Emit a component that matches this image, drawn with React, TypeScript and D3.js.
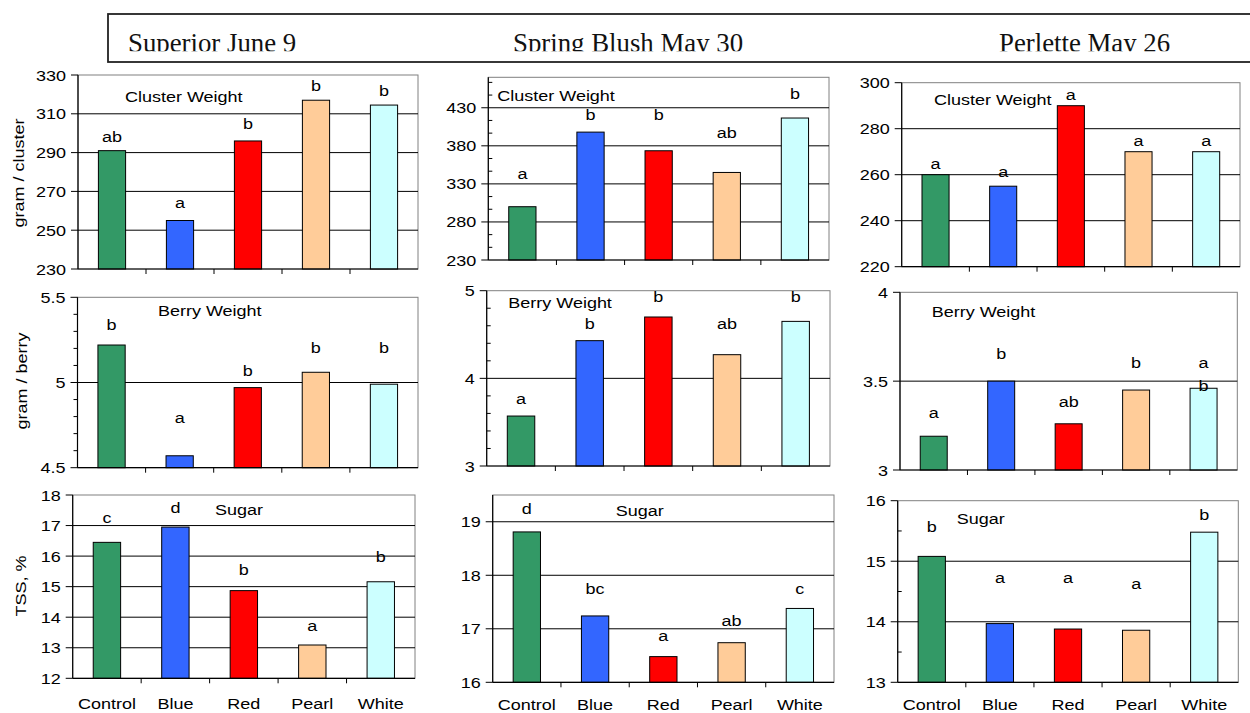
import React from 'react';
import * as d3 from 'd3';

// ---------- data ----------
const categories = ['Control', 'Blue', 'Red', 'Pearl', 'White'];
const barColors = ['#339966', '#3366FF', '#FF0000', '#FFCC99', '#CCFFFF'];
const cultivarTitles = ['Superior June 9', 'Spring Blush May 30', 'Perlette May 26'];
const measureTitles = ['Cluster Weight', 'Berry Weight', 'Sugar'];
const yAxisTitles = ['gram / cluster', 'gram / berry', 'TSS, %'];

// Superior June 9
const superiorCluster = [291, 255, 296, 317, 314.5];
const superiorClusterLetters = ['ab', 'a', 'b', 'b', 'b'];
const superiorClusterLetterAt = [298, 264, 305, 324.3, 321.8];
const superiorClusterTicks = [230, 250, 270, 290, 310, 330];

const superiorBerry = [5.22, 4.57, 4.97, 5.06, 4.99];
const superiorBerryLetters = ['b', 'a', 'b', 'b', 'b'];
const superiorBerryLetterAt = [5.34, 4.79, 5.07, 5.2, 5.2];
const superiorBerryTicks = [4.5, 5, 5.5];

const superiorSugar = [16.45, 16.95, 14.87, 13.09, 15.16];
const superiorSugarLetters = ['c', 'd', 'b', 'a', 'b'];
const superiorSugarLetterAt = [17.24, 17.56, 15.55, 13.72, 15.98];
const superiorSugarTicks = [12, 13, 14, 15, 16, 17, 18];

// Spring Blush May 30
const blushCluster = [300, 398, 373.5, 345, 416.5];
const blushClusterLetters = ['a', 'b', 'b', 'ab', 'b'];
const blushClusterLetterAt = [343, 421, 421, 397, 448];
const blushClusterTicks = [230, 280, 330, 380, 430];

const blushBerry = [3.57, 4.43, 4.7, 4.27, 4.65];
const blushBerryLetters = ['a', 'b', 'b', 'ab', 'b'];
const blushBerryLetterAt = [3.76, 4.62, 4.93, 4.62, 4.93];
const blushBerryTicks = [3, 4, 5];

const blushSugar = [18.81, 17.24, 16.48, 16.74, 17.38];
const blushSugarLetters = ['d', 'bc', 'a', 'ab', 'c'];
const blushSugarLetterAt = [19.23, 17.74, 16.87, 17.15, 17.74];
const blushSugarTicks = [16, 17, 18, 19];

// Perlette May 26
const perletteCluster = [260, 255, 290, 270, 270];
const perletteClusterLetters = ['a', 'a', 'a', 'a', 'a'];
const perletteClusterLetterAt = [264.5, 261, 294.7, 274.8, 274.8];
const perletteClusterTicks = [220, 240, 260, 280, 300];

const perletteBerry = [3.19, 3.5, 3.26, 3.45, 3.46];
const perletteBerryLetters = ['a', 'b', 'ab', 'b', 'a\nb'];
const perletteBerryLetterAt = [3.32, 3.65, 3.38, 3.6, 3.6];
const perletteBerryTicks = [3, 3.5, 4];

const perletteSugar = [15.08, 13.97, 13.88, 13.86, 15.48];
const perletteSugarLetters = ['b', 'a', 'a', 'a', 'b'];
const perletteSugarLetterAt = [15.57, 14.72, 14.72, 14.63, 15.76];
const perletteSugarTicks = [13, 14, 15, 16];

// ---------- layout ----------
const SX = 1.2; // horizontal glyph stretch of the sans text
const SANS = "'Liberation Sans', Arial, Helvetica, sans-serif";

type Panel = {
  row: number;
  col: number;
  values: number[];
  letters: string[];
  letterAt: number[];
  ticks: number[];
  domain: [number, number];
  frame: { l: number; t: number; r: number; b: number };
  minor?: { step: number; inside: boolean };
  title: { x: number; y: number };
};

const panels: Panel[] = [
  { row: 0, col: 0, values: superiorCluster, letters: superiorClusterLetters, letterAt: superiorClusterLetterAt, ticks: superiorClusterTicks, domain: [230, 330], frame: { l: 78, t: 75, r: 418, b: 269 }, title: { x: 125, y: 97 } },
  { row: 1, col: 0, values: superiorBerry, letters: superiorBerryLetters, letterAt: superiorBerryLetterAt, ticks: superiorBerryTicks, domain: [4.5, 5.5], frame: { l: 77.5, t: 297.3, r: 418, b: 467.7 }, minor: { step: 0.1, inside: false }, title: { x: 158, y: 310.7 } },
  { row: 2, col: 0, values: superiorSugar, letters: superiorSugarLetters, letterAt: superiorSugarLetterAt, ticks: superiorSugarTicks, domain: [12, 18], frame: { l: 72.7, t: 495, r: 415, b: 678.3 }, title: { x: 215, y: 510 } },

  { row: 0, col: 1, values: blushCluster, letters: blushClusterLetters, letterAt: blushClusterLetterAt, ticks: blushClusterTicks, domain: [230, 470], frame: { l: 488.3, t: 77.3, r: 829, b: 260 }, minor: { step: 50 / 3, inside: true }, title: { x: 497.3, y: 96 } },
  { row: 1, col: 1, values: blushBerry, letters: blushBerryLetters, letterAt: blushBerryLetterAt, ticks: blushBerryTicks, domain: [3, 5], frame: { l: 486.7, t: 290.7, r: 830, b: 466 }, minor: { step: 0.2, inside: true }, title: { x: 508.3, y: 302.7 } },
  { row: 2, col: 1, values: blushSugar, letters: blushSugarLetters, letterAt: blushSugarLetterAt, ticks: blushSugarTicks, domain: [16, 19.5], frame: { l: 492.7, t: 495, r: 834, b: 682.3 }, title: { x: 615.7, y: 510.7 } },

  { row: 0, col: 2, values: perletteCluster, letters: perletteClusterLetters, letterAt: perletteClusterLetterAt, ticks: perletteClusterTicks, domain: [220, 300], frame: { l: 901.7, t: 82.7, r: 1240, b: 266.7 }, title: { x: 934, y: 100 } },
  { row: 1, col: 2, values: perletteBerry, letters: perletteBerryLetters, letterAt: perletteBerryLetterAt, ticks: perletteBerryTicks, domain: [3, 4], frame: { l: 900, t: 292.3, r: 1237.3, b: 470 }, title: { x: 931.7, y: 312.3 } },
  { row: 2, col: 2, values: perletteSugar, letters: perletteSugarLetters, letterAt: perletteSugarLetterAt, ticks: perletteSugarTicks, domain: [13, 16], frame: { l: 897.7, t: 500.7, r: 1238.3, b: 682.3 }, minor: { step: 0.5, inside: true }, title: { x: 956.7, y: 519 } },
];

const yTitlePos = [
  { x: 24, y: 173 },
  { x: 27, y: 381 },
  { x: 26, y: 586 },
];
const categoryBaseline = [709, 709.5, 709.5];
const headerTitleX = [128, 513, 999];

function SText(props: {
  x: number;
  y: number;
  anchor?: 'start' | 'middle' | 'end';
  rotate?: number;
  size?: number;
  children: React.ReactNode;
}) {
  const { x, y, anchor = 'start', rotate = 0, size = 15, children } = props;
  return (
    <text
      transform={`translate(${x},${y}) rotate(${rotate}) scale(${SX},1)`}
      textAnchor={anchor}
      fontFamily={SANS}
      fontSize={size}
      fill="#000"
    >
      {children}
    </text>
  );
}

function BarPanel({ p }: { p: Panel }) {
  const { l, t, r, b } = p.frame;
  const x = d3.scaleBand<string>().domain(categories).range([l, r]).paddingInner(0.6).paddingOuter(0.3);
  const y = d3.scaleLinear().domain(p.domain).range([b, t]);
  const step = x.step();
  const bw = x.bandwidth();
  const interior = p.ticks.filter((v) => y(v) > t + 0.5 && y(v) < b - 0.5);
  const minorTicks = p.minor
    ? d3.range(p.domain[0], p.domain[1] + 1e-9, p.minor.step).filter(
        (v) => !p.ticks.some((tk) => Math.abs(tk - v) < 1e-6)
      )
    : [];
  const boundaries = categories.slice(1).map((c) => (x(c) as number) - (step - bw) / 2);
  return (
    <g>
      <rect x={l} y={t} width={r - l} height={b - t} fill="#fff" stroke="#808080" strokeWidth={1} />
      {interior.map((v) => (
        <line key={'g' + v} x1={l} x2={r} y1={y(v)} y2={y(v)} stroke="#000" strokeWidth={1} />
      ))}
      {p.values.map((v, i) => (
        <rect
          key={'b' + i}
          x={x(categories[i]) as number}
          y={y(v)}
          width={bw}
          height={b - y(v)}
          fill={barColors[i]}
          stroke="#000"
          strokeWidth={1}
        />
      ))}
      <line x1={l} x2={l} y1={t} y2={b} stroke="#000" strokeWidth={1.2} />
      <line x1={l} x2={r} y1={b} y2={b} stroke="#000" strokeWidth={1.2} />
      {p.ticks.map((v) => (
        <line key={'t' + v} x1={l - 7} x2={l} y1={y(v)} y2={y(v)} stroke="#000" strokeWidth={1} />
      ))}
      {minorTicks.map((v, i) => (
        <line
          key={'m' + i}
          x1={p.minor!.inside ? l : l - 4}
          x2={p.minor!.inside ? l + 4 : l}
          y1={y(v)}
          y2={y(v)}
          stroke="#000"
          strokeWidth={1}
        />
      ))}
      {boundaries.map((bx, i) => (
        <line key={'x' + i} x1={bx} x2={bx} y1={b} y2={b + 5} stroke="#000" strokeWidth={1} />
      ))}
      {p.ticks.map((v) => (
        <SText key={'l' + v} x={l - 12} y={y(v) + 5.5} anchor="end">
          {String(v)}
        </SText>
      ))}
      {p.letters.map((s, i) => {
        const cx = (x(categories[i]) as number) + bw / 2;
        const lines = s.split('\n');
        return lines.map((ln, k) => (
          <SText key={'s' + i + '-' + k} x={cx} y={y(p.letterAt[i]) + 5 + k * 22.5} anchor="middle">
            {ln}
          </SText>
        ));
      })}
      <SText x={p.title.x} y={p.title.y + 5}>
        {measureTitles[p.row]}
      </SText>
      {p.row === 2 &&
        categories.map((c) => (
          <SText key={'c' + c} x={(x(c) as number) + bw / 2} y={categoryBaseline[p.col]} anchor="middle">
            {c}
          </SText>
        ))}
    </g>
  );
}

export default function App() {
  return (
    <svg
      width={1250}
      height={713}
      viewBox="0 0 1250 713"
      style={{ position: 'absolute', left: 0, top: 0, background: '#fff' }}
    >
      <rect x={0} y={0} width={1250} height={713} fill="#fff" />
      <defs>
        <clipPath id="hdrclip">
          <rect x={108} y={14} width={1150} height={37.3} />
        </clipPath>
      </defs>
      <rect x={108} y={14} width={1160} height={48} fill="#fff" stroke="#222" strokeWidth={1.8} />
      <g clipPath="url(#hdrclip)">
        {cultivarTitles.map((tt, i) => (
          <text
            key={tt}
            x={headerTitleX[i]}
            y={51.5}
            fontFamily="'Liberation Serif', 'Times New Roman', serif"
            fontSize={26.8}
            fill="#111"
          >
            {tt}
          </text>
        ))}
      </g>
      {yAxisTitles.map((tt, i) => (
        <SText key={tt} x={yTitlePos[i].x} y={yTitlePos[i].y} rotate={-90} anchor="middle">
          {tt}
        </SText>
      ))}
      {panels.map((p, i) => (
        <BarPanel key={i} p={p} />
      ))}
    </svg>
  );
}
